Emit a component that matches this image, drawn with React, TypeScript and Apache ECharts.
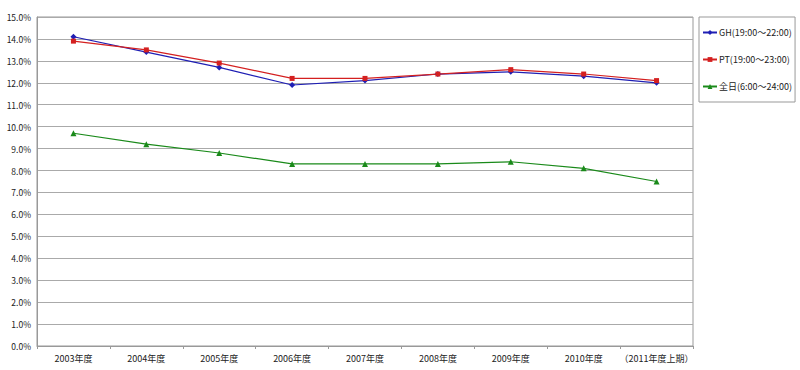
import React, { useEffect, useRef } from "react";
import * as echarts from "echarts";

const categories = ["2003年度", "2004年度", "2005年度", "2006年度", "2007年度", "2008年度", "2009年度", "2010年度", "（2011年度上期）"];
const seriesNames = ["GH(19:00～22:00)", "PT(19:00～23:00)", "全日(6:00～24:00)"];
const ghValues = [14.1, 13.4, 12.7, 11.9, 12.1, 12.4, 12.5, 12.3, 12.0];
const ptValues = [13.9, 13.5, 12.9, 12.2, 12.2, 12.4, 12.6, 12.4, 12.1];
const allDayValues = [9.7, 9.2, 8.8, 8.3, 8.3, 8.3, 8.4, 8.1, 7.5];

const FONT = "'Noto Sans CJK JP', 'Noto Sans', sans-serif";

export default function App() {
  const ref = useRef<HTMLDivElement>(null);
  useEffect(() => {
    const chart = echarts.init(ref.current!, undefined, { renderer: "svg" });
    const mk = (name: string, data: number[], color: string, symbol: string, size: number) => ({
      name,
      type: "line",
      data,
      symbol,
      symbolSize: size,
      lineStyle: { color, width: 1.2 },
      itemStyle: { color },
      emphasis: { disabled: true },
    });
    chart.setOption({
      animation: false,
      textStyle: { fontFamily: FONT },
      grid: { left: 37, right: 107, top: 17, bottom: 24, show: true, borderColor: "#999", borderWidth: 1, backgroundColor: "transparent" },
      legend: {
        orient: "vertical",
        left: 699,
        top: 17,
        width: 94,
        height: 76,
        padding: [11, 3, 11, 3],
        itemGap: 18,
        itemWidth: 14,
        itemHeight: 6,
        borderColor: "#999",
        borderWidth: 1,
        textStyle: { fontSize: 9, color: "#222", fontFamily: FONT, padding: [0, 0, 0, -3] },
        data: seriesNames,
      },
      xAxis: {
        type: "category",
        data: categories,
        boundaryGap: true,
        axisLine: { lineStyle: { color: "#999" } },
        axisTick: { show: true, length: 3, lineStyle: { color: "#999" } },
        axisLabel: { fontSize: 9, color: "#222", margin: 8, interval: 0, fontFamily: FONT },
      },
      yAxis: {
        type: "value",
        min: 0,
        max: 15,
        interval: 1,
        axisLine: { show: true, lineStyle: { color: "#999" } },
        axisTick: { show: false },
        splitLine: { lineStyle: { color: "#aaa", width: 1 } },
        axisLabel: { fontSize: 8.5, color: "#222", margin: 6, formatter: (v: number) => v.toFixed(1) + "%", fontFamily: FONT },
      },
      series: [
        mk(seriesNames[0], ghValues, "#1f1fb4", "diamond", 6),
        mk(seriesNames[1], ptValues, "#d42020", "rect", 5),
        mk(seriesNames[2], allDayValues, "#1a8a1a", "triangle", 6),
      ],
    });
    return () => chart.dispose();
  }, []);
  return <div ref={ref} style={{ position: "absolute", left: 0, top: 0, width: 800, height: 370 }} />;
}
